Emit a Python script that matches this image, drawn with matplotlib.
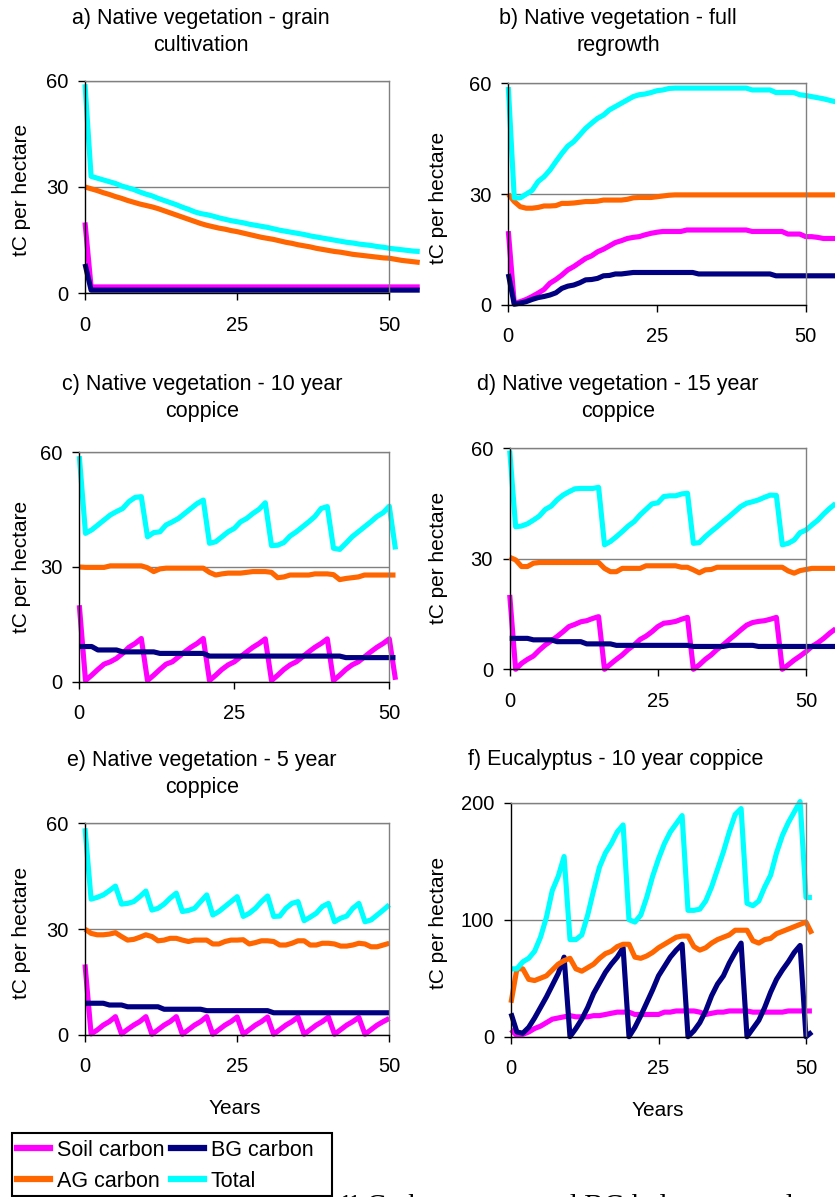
import matplotlib
matplotlib.use('Agg')
import matplotlib.pyplot as plt
from matplotlib.lines import Line2D
from matplotlib.patches import Rectangle

plt.rcParams['font.family'] = ['Liberation Sans', 'DejaVu Sans']

W, H = 835, 1197

SOIL_C = '#FF00FF'
BG_C = '#000080'
AG_C = '#FF6600'
TOT_C = '#00FFFF'

labels = ['Soil carbon', 'BG carbon', 'AG carbon', 'Total']

# a) grain cultivation
a_years = list(range(56))
a_soil_years = [0, 1, 55]
a_soil = [20, 1.8, 1.8]
a_bg_years = [0, 1, 55]
a_bg = [8.3, 0.9, 0.9]
a_ag = [30, 29.5, 29, 28.4, 27.9, 27.3, 26.8, 26.2, 25.7, 25.2,
        24.8, 24.4, 23.9, 23.3, 22.7, 22.1, 21.5, 20.9, 20.3, 19.7,
        19.2, 18.8, 18.4, 18.1, 17.7, 17.4, 17.0, 16.6, 16.2, 15.8,
        15.5, 15.2, 14.8, 14.4, 14.1, 13.7, 13.4, 13.1, 12.7, 12.4,
        12.1, 11.8, 11.6, 11.3, 11.0, 10.8, 10.6, 10.4, 10.2, 10.0,
        9.9, 9.6, 9.3, 9.1, 8.9, 8.7]
a_total = [59, 33, 32.5, 32, 31.5, 31, 30.3, 29.8, 29.3, 28.6,
           28, 27.5, 26.8, 26.2, 25.6, 25, 24.3, 23.7, 23, 22.5,
           22.2, 21.8, 21.3, 20.9, 20.5, 20.2, 19.9, 19.5, 19.2, 18.9,
           18.6, 18.2, 17.8, 17.5, 17.2, 16.9, 16.6, 16.2, 15.9, 15.6,
           15.3, 15.0, 14.7, 14.4, 14.2, 13.9, 13.7, 13.5, 13.2, 13.0,
           12.7, 12.5, 12.3, 12.1, 11.9, 11.8]

# b) full regrowth
b_years = list(range(56))
b_soil = [20, 0.5, 0.9, 1.5, 2.3, 3.2, 4.2, 5.9, 6.9, 8.1,
          9.5, 10.4, 11.5, 12.6, 13.3, 14.4, 15.1, 16, 16.9, 17.4,
          18, 18.3, 18.5, 19, 19.4, 19.7, 19.9, 19.9, 19.9, 19.9,
          20.3, 20.3, 20.3, 20.3, 20.3, 20.3, 20.3, 20.3, 20.3, 20.3,
          20.3, 19.9, 19.9, 19.9, 19.9, 19.9, 19.9, 19.2, 19.2, 19.2,
          18.5, 18.5, 18.3, 18, 18, 18]
b_bg = [8.4, 0.2, 0.5, 0.9, 1.5, 2, 2.3, 2.7, 3.3, 4.5,
        5.1, 5.4, 6, 6.8, 6.9, 7.2, 7.9, 8, 8.4, 8.4,
        8.6, 8.8, 8.8, 8.8, 8.8, 8.8, 8.8, 8.8, 8.8, 8.8,
        8.8, 8.8, 8.4, 8.4, 8.4, 8.4, 8.4, 8.4, 8.4, 8.4,
        8.4, 8.4, 8.4, 8.4, 8.4, 7.9, 7.9, 7.9, 7.9, 7.9,
        7.9, 7.9, 7.9, 7.9, 7.9, 7.9]
b_ag = [30, 28, 26.6, 26.2, 26.2, 26.4, 26.8, 26.8, 26.9, 27.5,
        27.5, 27.6, 27.8, 28, 28, 28.1, 28.4, 28.4, 28.4, 28.4,
        28.6, 29, 29.1, 29.1, 29.1, 29.3, 29.5, 29.7, 29.8, 29.8,
        29.8, 29.8, 29.8, 29.8, 29.8, 29.8, 29.8, 29.8, 29.8, 29.8,
        29.8, 29.8, 29.8, 29.8, 29.8, 29.8, 29.8, 29.8, 29.8, 29.8,
        29.8, 29.8, 29.8, 29.8, 29.8, 29.8]
b_total = [59, 29, 29, 30, 31, 33.4, 34.7, 36.5, 38.8, 41,
           43, 44.2, 46, 47.8, 49.2, 50.5, 51.4, 52.8, 53.7, 54.6,
           55.5, 56.4, 56.9, 57.1, 57.5, 58, 58.2, 58.6, 58.7, 58.7,
           58.7, 58.7, 58.7, 58.7, 58.7, 58.7, 58.7, 58.7, 58.7, 58.7,
           58.7, 58.2, 58.2, 58.2, 58.2, 57.5, 57.5, 57.5, 57.5, 56.9,
           56.7, 56.4, 56.1, 55.8, 55.4, 55]

# c) 10 year coppice
c_years = list(range(52))
c_soil = [20, 0.3, 1.7, 3.2, 4.6, 5.2, 6.1, 7.4, 9, 10,
          11.3, 0.3, 1.7, 3.2, 4.6, 5.2, 6.5, 7.8, 9, 10,
          11.3, 0.3, 1.7, 3.2, 4.4, 5.2, 6.5, 7.8, 9, 10,
          11.2, 0.3, 1.7, 3.2, 4.4, 5.2, 6.5, 7.8, 9, 10,
          11.2, 0.3, 1.7, 3.2, 4.4, 5.2, 6.5, 7.8, 9, 10,
          11.2, 0.5]
c_bg = [9.2, 9.2, 9.2, 8.3, 8.3, 8.3, 8.3, 7.8, 7.8, 7.8,
        7.8, 7.8, 7.8, 7.4, 7.4, 7.4, 7.4, 7.4, 7.4, 7.4,
        7.4, 6.7, 6.7, 6.7, 6.7, 6.7, 6.7, 6.7, 6.7, 6.7,
        6.7, 6.7, 6.7, 6.7, 6.7, 6.7, 6.7, 6.7, 6.7, 6.7,
        6.7, 6.7, 6.7, 6.3, 6.3, 6.3, 6.3, 6.3, 6.3, 6.3,
        6.3, 6.3]
c_ag = [30, 29.9, 29.9, 29.9, 29.9, 30.3, 30.3, 30.3, 30.3, 30.3,
        30.3, 29.8, 28.8, 29.5, 29.7, 29.7, 29.7, 29.7, 29.7, 29.7,
        29.7, 28.6, 27.9, 28.2, 28.4, 28.4, 28.4, 28.6, 28.8, 28.8,
        28.8, 28.6, 27.2, 27.4, 27.9, 27.9, 27.9, 27.9, 28.2, 28.2,
        28.2, 28.0, 26.7, 27.0, 27.2, 27.4, 27.9, 27.9, 27.9, 27.9,
        27.9, 27.9]
c_total = [59, 38.8, 39.7, 41, 42.3, 43.6, 44.5, 45.3, 47.1, 48.2,
           48.4, 37.9, 39, 39.2, 41, 41.8, 42.7, 44, 45.3, 46.6,
           47.5, 36.2, 36.6, 37.9, 39.2, 40.1, 41.8, 42.7, 44, 45.1,
           46.8, 35.6, 35.7, 36.4, 38.1, 39.2, 40.5, 41.8, 43.2, 45.3,
           45.8, 34.9, 34.6, 36.2, 37.9, 39.2, 40.5, 41.8, 43.2, 44.2,
           45.9, 34.6]

# d) 15 year coppice
d_years = list(range(56))
d_soil = [20.2, 0, 1.6, 2.7, 3.6, 5.2, 6.6, 7.7, 8.9, 10.2,
          11.6, 12.2, 12.9, 13.2, 13.8, 14.3, 0, 1.4, 2.7, 3.9,
          5.4, 6.6, 8.1, 9, 10.2, 11.6, 12.5, 12.7, 13, 13.6,
          14.1, 0, 1.2, 2.7, 3.9, 5.4, 6.6, 8, 9.3, 10.7,
          12, 12.7, 13, 13.2, 13.6, 14.1, 0, 1.2, 2.5, 3.6,
          4.8, 6.2, 7.2, 8.4, 9.8, 11]
d_bg = [8.4, 8.4, 8.4, 8.4, 8.0, 8.0, 8.0, 8.0, 7.5, 7.5,
        7.5, 7.5, 7.5, 6.9, 6.9, 6.9, 6.9, 6.9, 6.5, 6.5,
        6.5, 6.5, 6.5, 6.5, 6.5, 6.5, 6.5, 6.5, 6.5, 6.5,
        6.5, 6.2, 6.2, 6.2, 6.2, 6.2, 6.2, 6.5, 6.5, 6.5,
        6.5, 6.5, 6.2, 6.2, 6.2, 6.2, 6.2, 6.2, 6.2, 6.2,
        6.2, 6.2, 6.2, 6.2, 6.2, 6.2]
d_ag = [30.4, 29.7, 27.9, 27.9, 28.8, 29, 29, 29, 29, 29,
        29, 29, 29, 29, 29, 29, 27.4, 26.5, 26.5, 27.4,
        27.4, 27.4, 27.4, 28.1, 28.1, 28.1, 28.1, 28.1, 28.1, 27.7,
        27.7, 27, 26.2, 27, 27.1, 27.7, 27.7, 27.7, 27.7, 27.7,
        27.7, 27.7, 27.7, 27.7, 27.7, 27.7, 27.7, 26.7, 26.1, 26.8,
        27.1, 27.4, 27.4, 27.4, 27.4, 27.4]
d_total = [59.4, 38.7, 38.9, 39.5, 40.5, 41.6, 43.4, 44.3, 46, 47.3,
           48.2, 49, 49.1, 49.1, 49.1, 49.4, 33.8, 34.7, 36, 37.4,
           38.9, 40.1, 41.9, 43.4, 44.9, 45.2, 46.9, 47.1, 47.1, 47.6,
           47.8, 34.2, 34.4, 36, 37.4, 38.7, 40.1, 41.4, 42.8, 44.2,
           45.1, 45.5, 46, 46.7, 47.3, 47.2, 33.8, 34.2, 35.1, 37.1,
           37.8, 39.2, 40.5, 42.2, 43.7, 45]

# e) 5 year coppice
e_years = list(range(51))
e_soil = [20, 0.3, 1.4, 2.8, 3.8, 5.2, 0.3, 1.6, 2.8, 3.8,
          5.2, 0.2, 1.5, 2.8, 3.8, 5.2, 0.2, 1.5, 2.8, 3.8,
          5.2, 0.2, 1.5, 2.8, 3.8, 5.1, 0.2, 1.5, 2.8, 3.8,
          5.1, 0.2, 1.5, 2.8, 3.8, 5.1, 0.2, 1.5, 2.8, 3.8,
          5.1, 0.2, 1.5, 2.8, 3.8, 5.0, 0.2, 1.5, 2.8, 3.8,
          4.7]
e_bg = [9, 9, 9, 9, 8.5, 8.5, 8.5, 8, 8, 8,
        8, 8, 8, 7.3, 7.3, 7.3, 7.3, 7.3, 7.3, 7.3,
        6.9, 6.9, 6.9, 6.9, 6.9, 6.9, 6.9, 6.9, 6.9, 6.9,
        6.9, 6.3, 6.3, 6.3, 6.3, 6.3, 6.3, 6.3, 6.3, 6.3,
        6.3, 6.3, 6.3, 6.3, 6.3, 6.3, 6.3, 6.3, 6.3, 6.3,
        6.3]
e_ag = [30, 28.8, 28.4, 28.4, 28.6, 29, 27.9, 26.9, 27.1, 27.7,
        28.4, 27.9, 26.7, 26.9, 27.4, 27.4, 26.9, 26.5, 26.9, 26.9,
        26.9, 25.8, 25.8, 26.5, 26.9, 26.9, 27.0, 25.8, 26.2, 26.7,
        26.7, 26.5, 25.5, 25.5, 26, 26.7, 26.7, 25.5, 25.5, 26,
        26, 25.8, 25.2, 25.2, 25.5, 26, 25.8, 25, 25, 25.5,
        26]
e_total = [58.6, 38.5, 39, 39.7, 40.9, 42.2, 37.1, 37.3, 37.8, 39.2,
           40.8, 35.4, 35.9, 37.1, 38.8, 40.2, 35, 35.3, 35.9, 37.8,
           39.7, 34, 35, 36.4, 37.8, 39.2, 33.6, 34.5, 35.9, 37.8,
           39.4, 33.6, 33.7, 35.9, 37.3, 37.8, 32.4, 33.4, 34.5, 36.4,
           37.3, 32.1, 33.1, 33.7, 35.9, 37.3, 32.1, 32.6, 34, 35.4,
           36.9]

# f) Eucalyptus 10 year coppice
f_years = list(range(52))
f_soil = [6, 1, 2, 4, 7, 9, 12, 15, 16, 17,
          18, 17, 17, 17, 18, 18, 19, 20, 21, 21,
          21, 19, 19, 19, 19, 19, 21, 21, 22, 22,
          22, 22, 21, 19, 20, 21, 21, 22, 22, 22,
          22, 21, 21, 21, 21, 21, 21, 22, 22, 22,
          22, 22]
f_bg = [20, 4, 3, 8, 16, 25, 34, 44, 54, 68,
        0, 7, 15, 25, 37, 46, 55, 62, 68, 76,
        0, 8, 18, 29, 40, 52, 60, 68, 74, 79,
        0, 5, 12, 22, 35, 45, 52, 63, 72, 80,
        0, 7, 14, 25, 38, 49, 57, 64, 72, 78,
        0, 4]
f_ag = [29, 58, 58, 49, 48, 50, 52, 57, 62, 65,
        67, 58, 56, 59, 62, 67, 71, 73, 77, 79,
        79, 68, 67, 69, 72, 76, 79, 82, 85, 86,
        86, 77, 74, 76, 80, 83, 85, 87, 91, 91,
        91, 82, 80, 83, 84, 88, 90, 92, 94, 96,
        98, 88]
f_total = [58, 58, 64, 67, 73, 85, 102, 125, 137, 154,
           83, 83, 87, 104, 125, 145, 157, 165, 175, 181,
           100, 98, 104, 119, 137, 152, 165, 175, 182, 189,
           108, 108, 109, 116, 128, 143, 158, 175, 190, 195,
           114, 112, 116, 128, 138, 157, 172, 183, 192, 201,
           119, 119]


def px_axes(fig, x0, x1, ytop, ybot):
    return fig.add_axes([x0 / W, 1 - ybot / H, (x1 - x0) / W, (ybot - ytop) / H])


def style_axes(ax, ymax, yticks):
    ax.set_xlim(0, 50)
    ax.set_ylim(0, ymax)
    ax.set_xticks([0, 25, 50])
    ax.set_yticks(yticks)
    for s in ['top', 'right']:
        ax.spines[s].set_color('#808080')
    for s in ['left', 'bottom']:
        ax.spines[s].set_color('black')
    for s in ax.spines.values():
        s.set_linewidth(1.0)
    ax.grid(axis='y', color='#808080', lw=1.0)
    ax.set_axisbelow(True)
    ax.tick_params(direction='out', length=5, width=1, labelsize=14.5)
    ax.tick_params(axis='x', pad=11)
    ax.tick_params(axis='y', pad=7)


def draw(ax, series):
    for (x, y), col in zip(series, [SOIL_C, BG_C, AG_C, TOT_C]):
        ax.plot(x, y, color=col, lw=3.7, clip_on=False,
                solid_joinstyle='round', solid_capstyle='butt')


fig = plt.figure(figsize=(W / 100, H / 100), dpi=100)

panels = [
    # rect (x0, x50, ytop, ybot), series, ymax, yticks, title, title centre, ylabel centre
    ((85, 389.3, 80.7, 293.3),
     [(a_soil_years, a_soil), (a_bg_years, a_bg), (a_years, a_ag), (a_years, a_total)],
     60, [0, 30, 60], 'a) Native vegetation - grain\ncultivation', (201, 32), (22, 190)),
    ((508.3, 805.7, 83.3, 305),
     [(b_years, b_soil), (b_years, b_bg), (b_years, b_ag), (b_years, b_total)],
     60, [0, 30, 60], 'b) Native vegetation - full\nregrowth', (618, 32), (438, 198)),
    ((79.3, 389.3, 452.3, 681.7),
     [(c_years, c_soil), (c_years, c_bg), (c_years, c_ag), (c_years, c_total)],
     60, [0, 30, 60], 'c) Native vegetation - 10 year\ncoppice', (202, 398), (22, 567)),
    ((509.7, 806, 448.3, 669.3),
     [(d_years, d_soil), (d_years, d_bg), (d_years, d_ag), (d_years, d_total)],
     60, [0, 30, 60], 'd) Native vegetation - 15 year\ncoppice', (618, 398), (438, 558)),
    ((85, 389.3, 823.3, 1035),
     [(e_years, e_soil), (e_years, e_bg), (e_years, e_ag), (e_years, e_total)],
     60, [0, 30, 60], 'e) Native vegetation - 5 year\ncoppice', (202, 774), (22, 933)),
    ((511, 806, 802.7, 1036.7),
     [(f_years, f_soil), (f_years, f_bg), (f_years, f_ag), (f_years, f_total)],
     200, [0, 100, 200], 'f) Eucalyptus - 10 year coppice', (616, 759), (438, 923)),
]

for rect, series, ymax, yticks, title, tpos, ypos in panels:
    ax = px_axes(fig, *rect)
    style_axes(ax, ymax, yticks)
    draw(ax, series)
    fig.text(tpos[0] / W, 1 - tpos[1] / H, title, ha='center', va='center',
             fontsize=15.5, linespacing=1.42)
    fig.text(ypos[0] / W, 1 - ypos[1] / H, 'tC per hectare', ha='center',
             va='center', rotation=90, fontsize=15)

fig.text(235 / W, 1 - 1108 / H, 'Years', ha='center', va='center', fontsize=15)
fig.text(658 / W, 1 - 1110 / H, 'Years', ha='center', va='center', fontsize=15)

# legend, column-first order so rows read Soil/BG then AG/Total
cols = [SOIL_C, AG_C, BG_C, TOT_C]
names = [labels[0], labels[2], labels[1], labels[3]]
handles = [Line2D([], [], color=c, lw=4.5) for c in cols]
fig.legend(handles, names, ncol=2, loc='upper left',
           bbox_to_anchor=(17 / W, 1 - 1140 / H), fontsize=15.5,
           frameon=False, handlelength=1.55, handletextpad=0.3,
           columnspacing=0.3, borderpad=0, labelspacing=0.45,
           borderaxespad=0)
fig.patches.append(Rectangle((12 / W, 1 - 1196 / H), 320 / W, 63 / H,
                             transform=fig.transFigure, fill=False,
                             edgecolor='black', lw=1.5))

# caption of the page below, cut off by the bottom edge
fig.text(342 / W, 1 - 1194 / H, '¹¹ Carbon stores and BG below ground',
         ha='left', va='top', fontsize=21, family='Liberation Serif')

fig.savefig('out.png', dpi=100)
